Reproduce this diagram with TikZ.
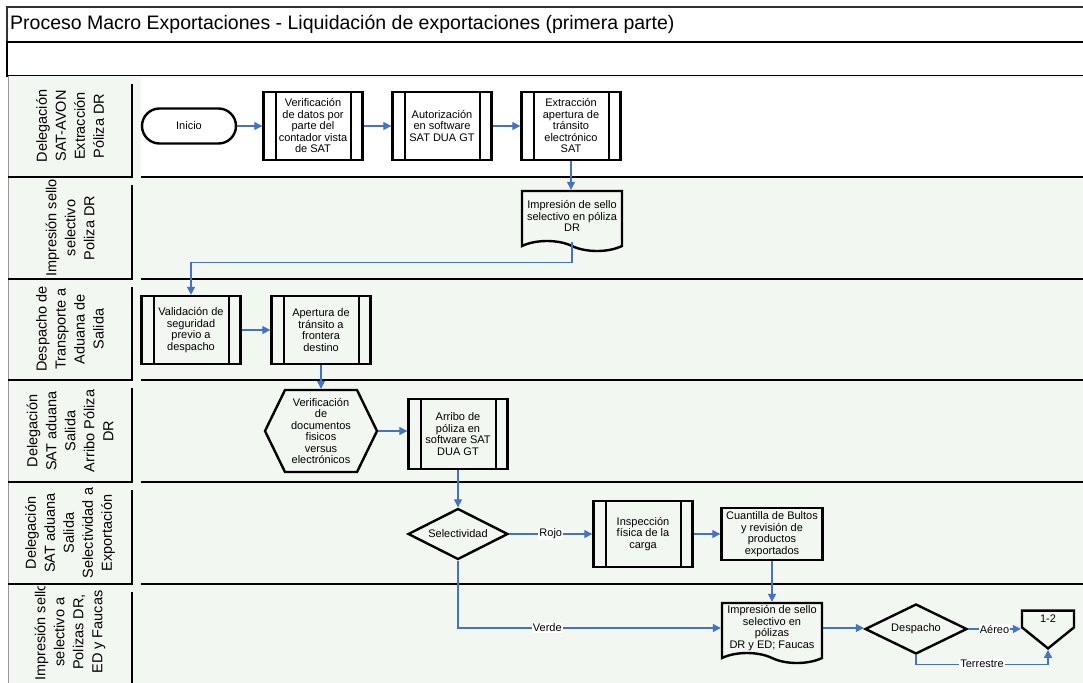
\documentclass[tikz,border=0pt]{standalone}
\usepackage{fontspec}
\setmainfont{Liberation Sans}
\usetikzlibrary{arrows.meta,shapes.geometric,shapes.misc,shapes.symbols}

\definecolor{lanefill}{RGB}{243,247,241}
\definecolor{flowblue}{RGB}{68,114,196}
\newcommand{\boxfont}{\fontsize{11}{11.5}\selectfont}
\newcommand{\lanefont}{\fontsize{14.5}{19}\selectfont}

\begin{document}
\begin{tikzpicture}[x=1pt,y=-1pt,>={Triangle[length=8pt,width=8pt]},
    every node/.style={font=\boxfont,align=center,inner sep=1pt},
    shapeline/.style={draw=black,line width=2.4pt},
    subproc/.style={shapeline,rectangle,minimum width=99pt,minimum height=68pt,
        path picture={\draw[line width=2pt]
            ([xshift=12pt]path picture bounding box.north west) -- ([xshift=12pt]path picture bounding box.south west)
            ([xshift=-12pt]path picture bounding box.north east) -- ([xshift=-12pt]path picture bounding box.south east);}},
    term/.style={shapeline,rounded rectangle,minimum width=96pt,minimum height=35pt},
    docu/.style={shapeline,tape,tape bend top=none,tape bend bottom=out and in,
        tape bend height=10pt,minimum width=100pt,minimum height=60pt},
    decision/.style={shapeline,diamond,shape aspect=2,inner sep=0pt,minimum width=100pt,minimum height=51pt},
    prep/.style={shapeline,signal,signal to=west and east,signal pointer angle=128,
        minimum width=112pt,minimum height=82pt},
    offpage/.style={shapeline,signal,signal to=south,signal pointer angle=102,
        minimum width=52pt,minimum height=24pt},
    plainbox/.style={shapeline,rectangle,minimum width=101pt,minimum height=52pt},
    flow/.style={->,draw=flowblue,line width=1.3pt},
    lbl/.style={fill=white,inner sep=1pt}]

    \useasboundingbox (0,0) rectangle (1083,682);
    % title rows
    \draw [line width=1.2pt,black!80] (1083,7) -- (7,7) -- (7,42);
    \node [anchor=west,font=\fontsize{19.5}{22}\selectfont] (title) at (9,24)
        {Proceso Macro Exportaciones - Liquidación de exportaciones (primera parte)};
    \draw [line width=2.6pt] (1083,42) -- (7,42) -- (7,76) -- (1083,76);

    % lanes
    \foreach \ytop/\ybot in {76/177,177/279,279/380,380/482,482/584,584/690}
        \fill [lanefill] (8,\ytop) rectangle (1083,\ybot);
    \fill [white] (141,78) rectangle (1083,177);
    \foreach \ytop/\ybot in {76/177,177/279,279/380,380/482,482/584,584/690} {
        \draw [line width=0.4pt,black!40] (8,\ytop) -- (8,\ybot);
        \draw [line width=2.6pt] (132,\ytop+8) -- (132,\ybot);
    }
    \foreach \ybot in {177,279,380,482,584} {
        \draw [line width=2.6pt] (8,\ybot) -- (133,\ybot);
        \draw [line width=2.6pt] (141,\ybot) -- (1083,\ybot);
    }
    \foreach \ytop/\ybot/\ymid/\txt [count=\i] in {
        76/177/126/{Delegación\\SAT-AVON\\Extracción\\Póliza DR},
        177/279/228/{Impresión sello\\selectivo\\Poliza DR},
        279/380/329/{Despacho de\\Transporte a\\Aduana de\\Salida},
        380/482/431/{Delegación\\SAT aduana\\Salida\\Arribo Póliza\\DR},
        482/584/533/{Delegación\\SAT aduana\\Salida\\Selectividad a\\Exportación},
        584/690/632/{Impresión sello\\selectivo a\\Polizas DR,\\ED y Faucas}} {
        \begin{scope}
            \clip (9,\ytop+2) rectangle (130,\ybot-2);
            \node [rotate=90,font=\lanefont] (lane\i) at (70,\ymid) {\txt};
        \end{scope}
    }

    % steps
    \node [term] (inicio) at (189,126) {Inicio};
    \node [subproc] (verdat) at (313,126) {Verificación\\de datos por\\parte del\\contador vista\\de SAT};
    \node [subproc] (autsw) at (442,126) {Autorización\\en software\\SAT DUA GT};
    \node [subproc] (extap) at (571,126) {Extracción\\apertura de\\tránsito\\electrónico\\SAT};
    \node [docu] (impdr) at (572,216) {Impresión de sello\\selectivo en póliza\\DR};
    \node [subproc] (valseg) at (191,330) {Validación de\\seguridad\\previo a\\despacho};
    \node [subproc] (aptran) at (321,330) {Apertura de\\tránsito a\\frontera\\destino};
    \node [prep] (verdoc) at (321,431) {Verificación\\de\\documentos\\fisicos\\versus\\electrónicos};
    \node [subproc,minimum height=70pt] (arribo) at (458,434) {Arribo de\\póliza en\\software SAT\\DUA GT};
    \node [decision] (selec) at (458,534) {Selectividad};
    \node [subproc,minimum height=66pt] (inspec) at (643,534) {Inspección\\física de la\\carga};
    \node [plainbox] (cuant) at (772,534) {Cuantilla de Bultos\\y revisión de\\productos\\exportados};
    \node [docu] (impfau) at (772,628) {Impresión de sello\\selectivo en\\pólizas\\DR y ED; Faucas};
    \node [decision,minimum width=102pt,minimum height=50pt] (desp) at (916,629) {Despacho};
    \node [offpage] (conn) at (1048,619) {1-2};

    % connectors
    \draw [flow] (inicio.east) -- (verdat.west);
    \draw [flow] (verdat.east) -- (autsw.west);
    \draw [flow] (autsw.east) -- (extap.west);
    \draw [flow] (extap.south) -- (extap.south |- impdr.north);
    \draw [flow] (impdr.south) -- ++(0,20) -| (valseg.north);
    \draw [flow] (valseg.east) -- (aptran.west);
    \draw [flow] (aptran.south) -- (verdoc.north);
    \draw [flow] (verdoc.east) -- (verdoc.east -| arribo.west);
    \draw [flow] (arribo.south) -- (selec.north);
    \draw [flow] (selec.east) -- node [lbl] {Rojo} (inspec.west);
    \draw [flow] (inspec.east) -- (cuant.west);
    \draw [flow] (cuant.south) -- (impfau.north);
    \draw [flow] (selec.south) |- node [lbl,pos=0.67] {Verde} (impfau.west);
    \draw [flow] (impfau.east) -- (impfau.east -| desp.west);
    \draw [flow] (desp.east) -- node [lbl] {Aéreo} (desp.east -| conn.west);
    \draw [flow] (desp.south) -- ++(0,9) -| node [lbl,pos=0.25] {Terrestre} (conn.south);
\end{tikzpicture}
\end{document}
